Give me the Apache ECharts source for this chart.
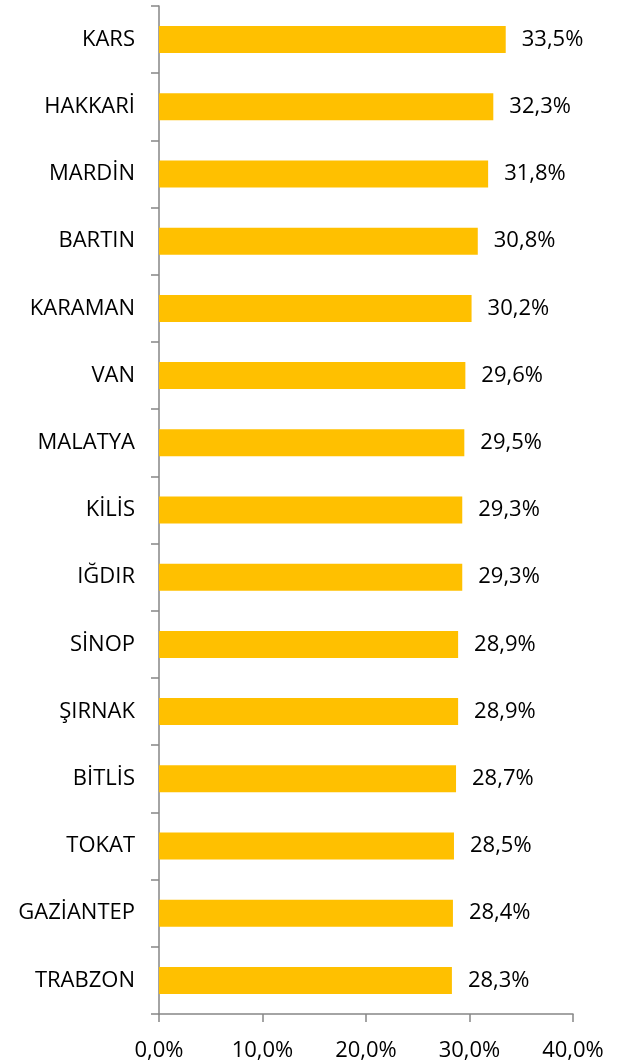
<!DOCTYPE html>
<html>
<head>
<meta charset="utf-8">
<script src="https://cdn.jsdelivr.net/npm/echarts@6/dist/echarts.min.js"></script>
<style>
  html, body { margin: 0; padding: 0; background: #fff; }
  #chart { width: 619px; height: 1063px; }
</style>
</head>
<body>
<div id="chart"></div>
<script>
const categories = ['KARS', 'HAKKARİ', 'MARDİN', 'BARTIN', 'KARAMAN', 'VAN', 'MALATYA', 'KİLİS',
  'IĞDIR', 'SİNOP', 'ŞIRNAK', 'BİTLİS', 'TOKAT', 'GAZİANTEP', 'TRABZON']
const values = [33.5, 32.3, 31.8, 30.8, 30.2, 29.6, 29.5, 29.3, 29.3, 28.9, 28.9, 28.7, 28.5, 28.4, 28.3]

const FONT = '"Open Sans", "Noto Sans", sans-serif'
const AXIS_COLOR = '#868686'
const BAR = '#FFC000'

const fmt = v => v.toFixed(1).replace('.', ',') + '%'

const chart = echarts.init(document.getElementById('chart'))

chart.setOption({
  backgroundColor: '#ffffff',
  animation: false,
  grid: { left: 159, right: 46, top: 6, bottom: 49, containLabel: false },
  xAxis: {
    type: 'value',
    min: 0,
    max: 40,
    interval: 10,
    axisLine: { show: true, lineStyle: { color: AXIS_COLOR, width: 1.5 } },
    axisTick: { show: true, length: 8, lineStyle: { color: AXIS_COLOR, width: 1.5 } },
    splitLine: { show: false },
    axisLabel: {
      margin: 26,
      color: '#000',
      fontFamily: FONT,
      fontSize: 22,
      formatter: v => fmt(v),
    },
  },
  yAxis: {
    type: 'category',
    inverse: true,
    data: categories,
    axisLine: { show: true, lineStyle: { color: AXIS_COLOR, width: 1.5 } },
    axisTick: { show: true, length: 8, lineStyle: { color: AXIS_COLOR, width: 1.5 } },
    axisLabel: {
      margin: 24,
      color: '#000',
      fontFamily: FONT,
      fontSize: 22,
    },
  },
  series: [
    {
      type: 'bar',
      data: values,
      barWidth: 27,
      itemStyle: { color: BAR },
      label: {
        show: true,
        position: 'right',
        distance: 16,
        color: '#000',
        fontFamily: FONT,
        fontSize: 22,
        formatter: p => fmt(p.value),
      },
    },
  ],
})
</script>
</body>
</html>
